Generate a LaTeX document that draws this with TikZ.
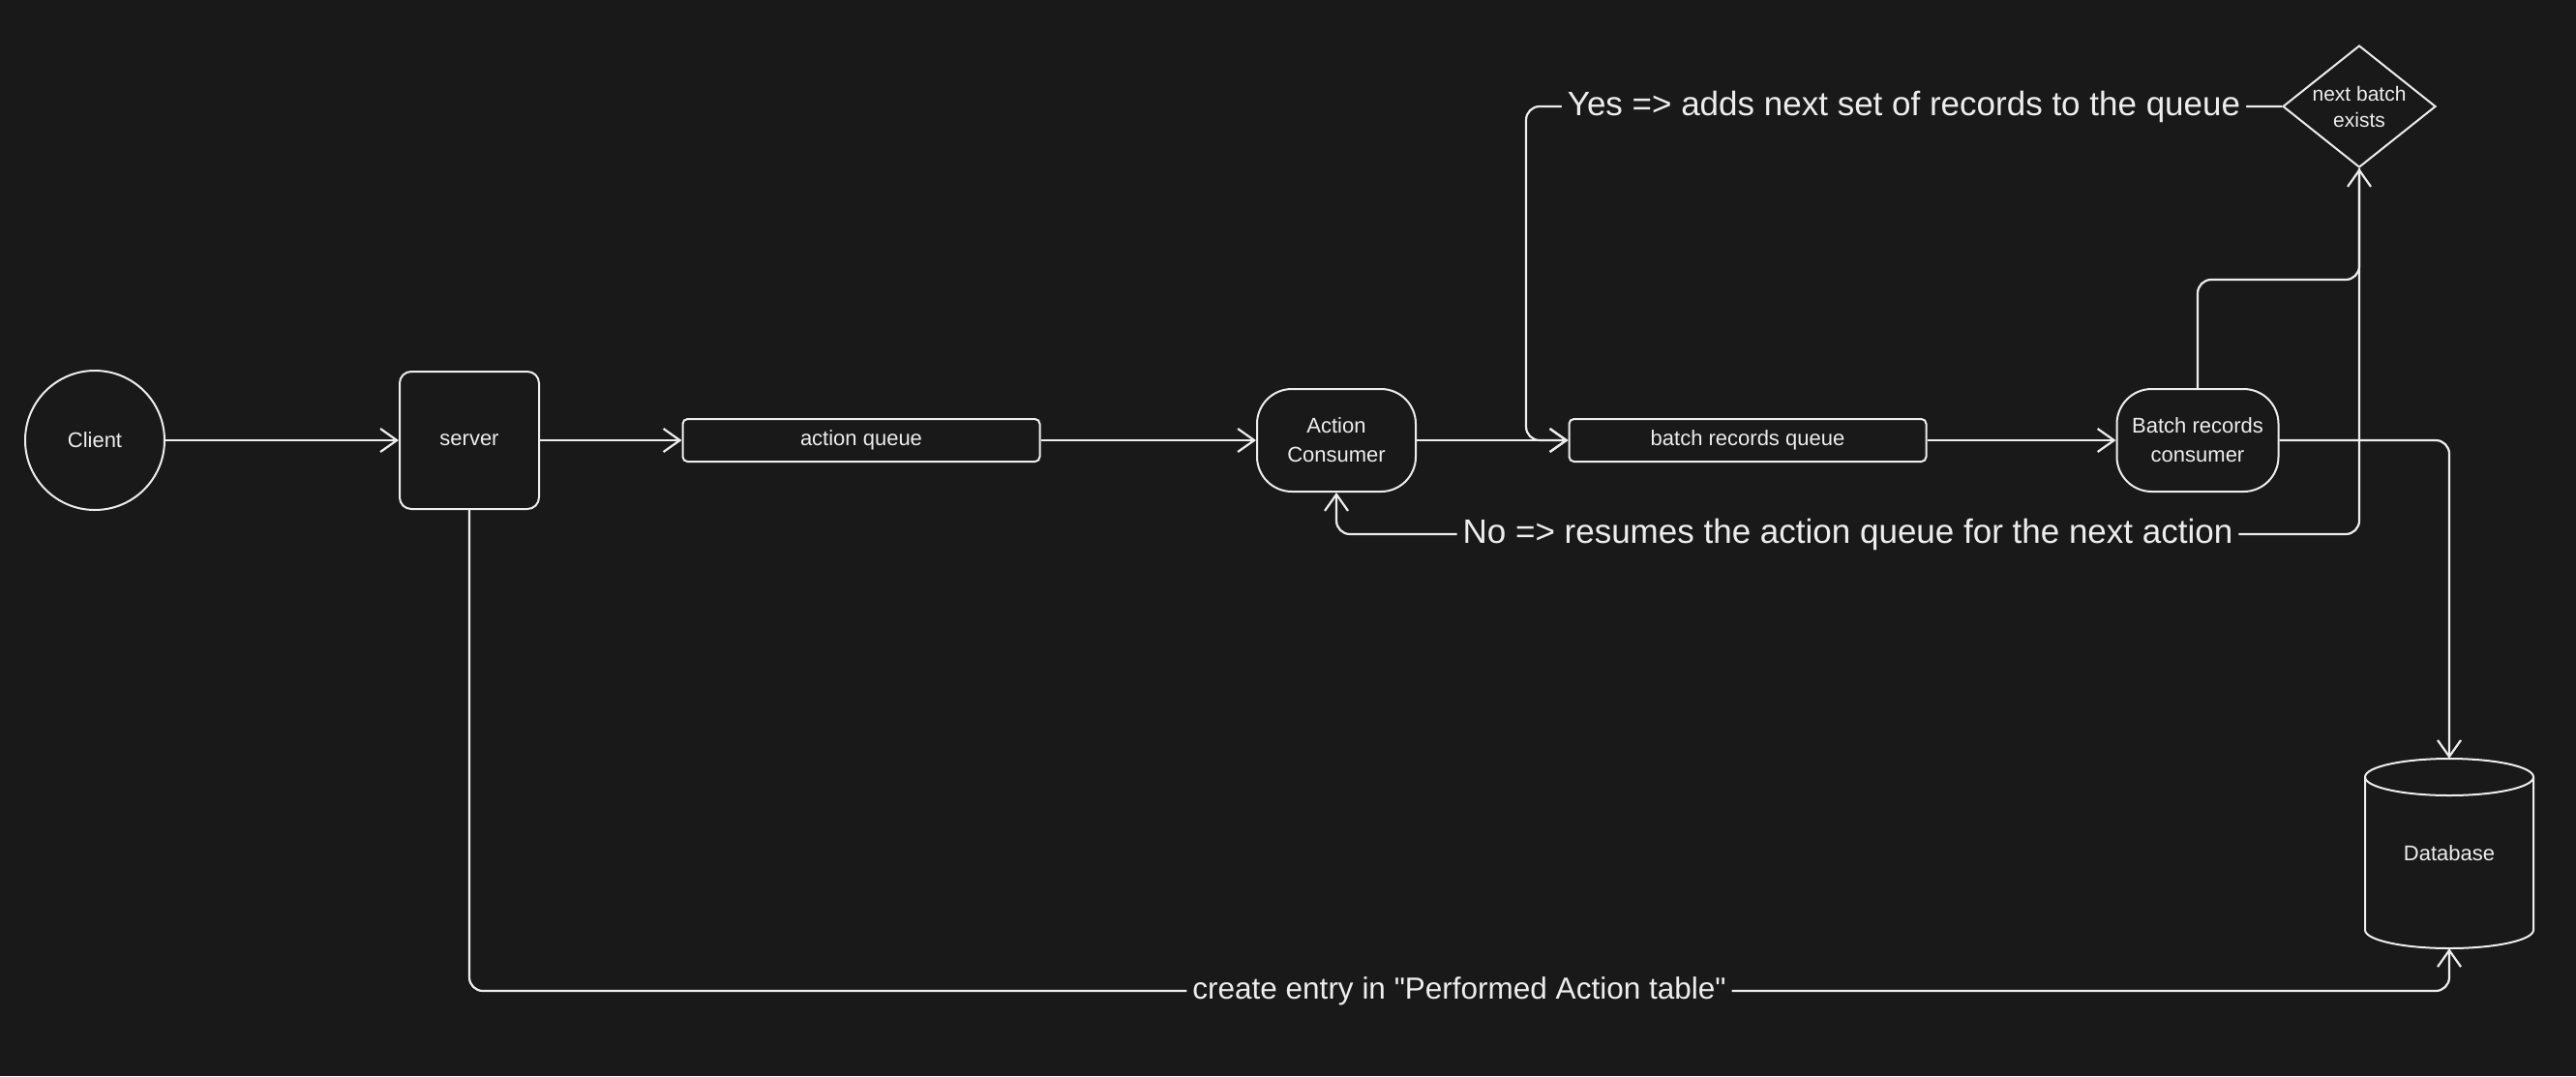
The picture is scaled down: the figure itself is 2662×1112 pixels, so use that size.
\documentclass[tikz,border=0pt]{standalone}
\usepackage{fontspec}
\setmainfont{Liberation Sans}[Ligatures=TeXOff]
\usetikzlibrary{arrows.meta,shapes.geometric}
\definecolor{bg}{HTML}{191919}
\definecolor{fg}{HTML}{EDEDED}
\begin{document}
\begin{tikzpicture}[x=1pt,y=-1pt,
  every node/.style={text=fg},
  box/.style={draw=fg, line width=2pt, font=\fontsize{22}{30}\selectfont, align=center, inner sep=0pt},
  roundbox/.style={box, rounded corners=36pt, minimum width=164pt, minimum height=106pt},
  queuebox/.style={box, rounded corners=5pt, minimum width=369pt, minimum height=44pt},
  arr/.style={draw=fg, line width=2.2pt, -{Straight Barb[length=17pt,width=24pt]}, rounded corners=14pt},
  lbl/.style={fill=bg, font=\fontsize{35}{41}\selectfont, inner xsep=6pt, inner ysep=2pt},
]
\fill[bg] (0,0) rectangle (2662,1112);
\useasboundingbox (0,0) rectangle (2662,1112);

% nodes
\node[box, circle, minimum size=144pt] (client) at (98,455) {Client};
\node[box, rounded corners=12pt, minimum width=144pt, minimum height=142pt] (server) at (485,455) {server};
\node[queuebox] (aq) at (890,455) {action queue};
\node[roundbox] (ac) at (1381,455) {Action\\Consumer};
\node[queuebox] (bq) at (1806,455) {batch records queue};
\node[roundbox, minimum width=167pt] (bc) at (2271,455) {Batch records\\consumer};
\node[box, diamond, minimum width=158pt, minimum height=126pt,
  label={[font=\fontsize{21}{27}\selectfont, align=center]center:next batch\\exists}] (dia) at (2438,110) {};
\node[minimum width=174pt, minimum height=196pt, inner sep=0pt, font=\fontsize{22}{30}\selectfont] (db) at (2531,882) {Database};

% database cylinder outline
\draw[fg, line width=2pt] (2531,803) ellipse [x radius=87pt, y radius=19pt];
\draw[fg, line width=2pt] (2444,803) -- (2444,961)
  .. controls (2444,971.5) and (2483,980) .. (2531,980)
  .. controls (2579,980) and (2618,971.5) .. (2618,961) -- (2618,803);

% connectors
\draw[arr] (client) -- (server);
\draw[arr] (server) -- (aq);
\draw[arr] (aq) -- (ac);
\draw[arr] (ac) -- (bq);
\draw[arr] (bq) -- (bc);

\coordinate (k1) at (2271,289);
\draw[arr] (bc.north) -- (k1) -| (dia.south);

\coordinate (y1) at (1577,110);
\draw[arr] (dia.west) -- node[lbl]{Yes => adds next set of records to the queue} (y1) |- (bq.west);

\coordinate (n1) at (2438,552);
\coordinate (n2) at (1381,552);
\draw[arr] (dia.south) -- (n1) -- node[lbl]{No => resumes the action queue for the next action} (n2) -- (ac.south);

\draw[arr] (bc.east) -| (db.north);

\coordinate (s1) at (485,1024);
\coordinate (s2) at (2531,1024);
\draw[arr] (server.south) -- (s1) -- node[lbl, font=\fontsize{31.5}{37}\selectfont]{create entry in "Performed Action table"} (s2) -- (db.south);
\end{tikzpicture}
\end{document}
